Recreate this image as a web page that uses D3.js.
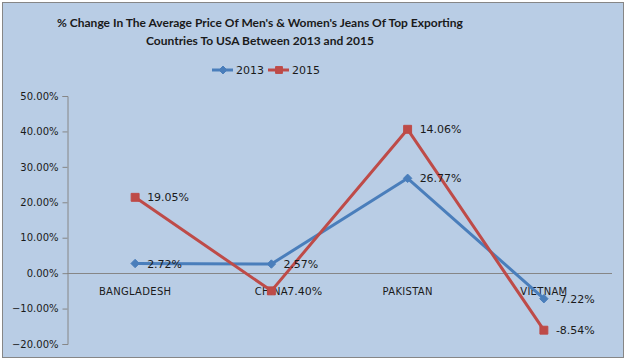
<!DOCTYPE html>
<html>
<head>
<meta charset="utf-8">
<script src="https://cdn.jsdelivr.net/npm/d3@7"></script>
<style>
  body { margin: 0; background: #fff; }
</style>
</head>
<body>
<div id="chart"></div>
<script>
// data
let countries = ["BANGLADESH", "CHINA", "PAKISTAN", "VIETNAM"];
let values2013 = [2.72, 2.57, 26.77, -7.22];
let values2015 = [21.4, -5.0, 40.6, -16.1];
let labels2013 = ["2.72%", "2.57%", "26.77%", "-7.22%"];
let labels2015 = ["19.05%", "-7.40%", "14.06%", "-8.54%"];
let yTicks = [-20, -10, 0, 10, 20, 30, 40, 50];

let larg = 629;
let alt = 362;
let azul = "#4a7ebb";
let verm = "#be4b48";

let svg = d3.select("#chart")
            .append("svg")
            .attr("width", larg)
            .attr("height", alt);

// chart area with border
svg.append("rect")
    .attr("x", 2.5).attr("y", 2.5)
    .attr("width", 621).attr("height", 355)
    .attr("fill", "#b9cde5")
    .attr("stroke", "#868686")
    .attr("stroke-width", 1);

// title
let titulo = svg.append("text")
    .attr("text-anchor", "middle")
    .style("font", "bold 12px Lato, 'Open Sans', sans-serif")
    .attr("fill", "#1a1a1a");
titulo.append("tspan").attr("x", 260).attr("y", 27)
    .text("% Change In The Average Price Of  Men's & Women's Jeans Of Top Exporting");
titulo.append("tspan").attr("x", 260).attr("y", 45)
    .text("Countries To USA Between 2013  and 2015");

// legend
let legenda = [
    {nome: "2013", cor: azul, x: 212, forma: "diamond"},
    {nome: "2015", cor: verm, x: 268, forma: "square"}
];
legenda.forEach(function(l) {
    svg.append("line")
        .attr("x1", l.x).attr("x2", l.x + 21)
        .attr("y1", 70).attr("y2", 70)
        .attr("stroke", l.cor).attr("stroke-width", 3);
    svg.append("path")
        .attr("d", l.forma == "diamond" ? d3.symbol(d3.symbolDiamond2, 40)() : d3.symbol(d3.symbolSquare2, 60)())
        .attr("transform", "translate(" + (l.x + 11) + ",70)")
        .attr("fill", l.cor)
        .attr("stroke", l.cor);
    svg.append("text")
        .attr("x", l.x + 24).attr("y", 74)
        .style("font", "11px 'DejaVu Sans', sans-serif")
        .attr("fill", "#1a1a1a")
        .text(l.nome);
});

let x = d3.scaleBand()
            .domain(countries)
            .range([67, 612]);

let y = d3.scaleLinear()
            .domain([-20, 50])
            .range([344, 96]);

// y axis
let eixoY = d3.axisLeft(y)
                .tickValues(yTicks)
                .tickSize(5)
                .tickFormat((d) => d3.format(".2f")(d) + "%");

let gy = svg.append("g")
        .attr("transform", "translate(67.5,0)")
        .call(eixoY);
gy.select(".domain").attr("stroke", "#868686");
gy.selectAll(".tick line").attr("stroke", "#868686");
gy.selectAll(".tick text")
    .attr("x", -9)
    .attr("fill", "#1a1a1a")
    .style("font", "10px 'DejaVu Sans', sans-serif");

// zero line
svg.append("line")
    .attr("x1", 67).attr("x2", 612)
    .attr("y1", Math.round(y(0)) + 0.5).attr("y2", Math.round(y(0)) + 0.5)
    .attr("stroke", "#868686");

// category labels
svg.selectAll(".cat")
    .data(countries)
    .enter()
        .append("text")
        .attr("class", "cat")
        .attr("x", (d) => x(d) + x.bandwidth() / 2)
        .attr("y", y(0) + 22)
        .attr("text-anchor", "middle")
        .style("font", "10px 'DejaVu Sans', sans-serif")
        .style("letter-spacing", "0.3px")
        .attr("fill", "#1a1a1a")
        .text((d) => d);

let linha = d3.line()
                .x((d, i) => x(countries[i]) + x.bandwidth() / 2)
                .y((d) => y(d));

let series = [
    {vals: values2013, labels: labels2013, cor: azul, forma: d3.symbol(d3.symbolDiamond2, 45)()},
    {vals: values2015, labels: labels2015, cor: verm, forma: d3.symbol(d3.symbolSquare2, 80)()}
];

series.forEach(function(s) {
    svg.append("path")
        .attr("d", linha(s.vals))
        .attr("fill", "none")
        .attr("stroke", s.cor)
        .attr("stroke-width", 3)
        .attr("stroke-linejoin", "round");
    svg.selectAll(null)
        .data(s.vals)
        .enter()
            .append("path")
            .attr("d", s.forma)
            .attr("transform", (d, i) => "translate(" + (x(countries[i]) + x.bandwidth() / 2) + "," + y(d) + ")")
            .attr("fill", s.cor)
            .attr("stroke", s.cor);
});

series.forEach(function(s) {
    svg.selectAll(null)
        .data(s.vals)
        .enter()
            .append("text")
            .attr("x", (d, i) => x(countries[i]) + x.bandwidth() / 2 + 12)
            .attr("y", (d) => y(d) + 4)
            .style("font", "11px 'DejaVu Sans', sans-serif")
            .attr("fill", "#1a1a1a")
            .text((d, i) => s.labels[i]);
});
</script>
</body>
</html>
